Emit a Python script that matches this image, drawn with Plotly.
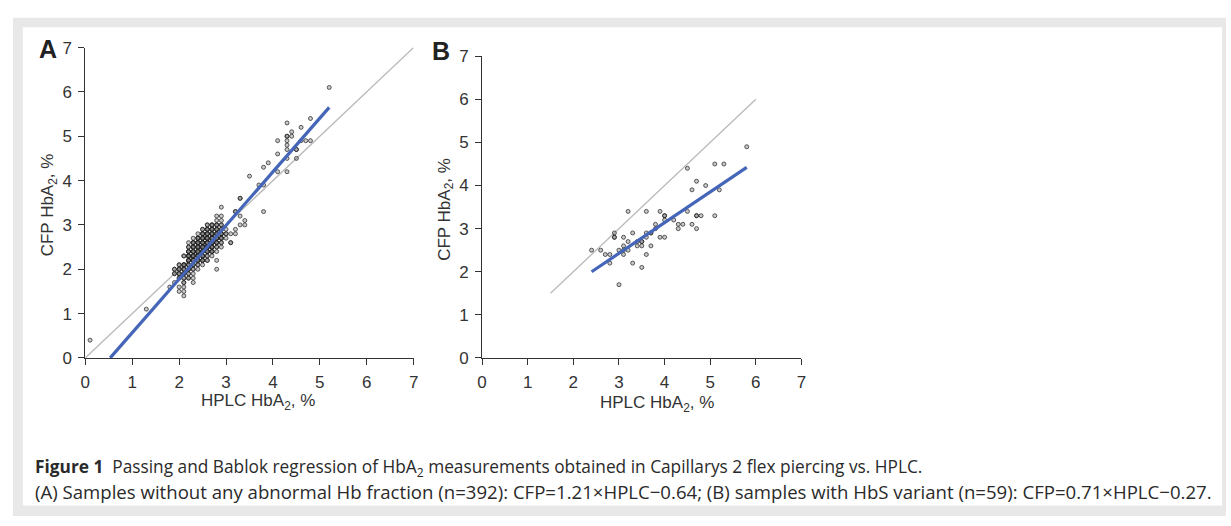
import numpy as np
import plotly.graph_objects as go

W, H = 1231, 526

# ---------------- Panel A data (n=392, no abnormal Hb fraction) ----------------
# dense cluster: for each CFP value, the HPLC values observed and how many samples
a_rows_y = [3.4, 3.3, 3.2, 3.1, 3.0, 2.9, 2.8, 2.7, 2.6, 2.5, 2.4, 2.3, 2.2, 2.1,
            2.0, 1.9, 1.8, 1.7, 1.6, 1.5, 1.4]
a_rows_x = [
    [2.9],
    [3.2],
    [2.8, 2.9, 3.3],
    [2.8, 2.9, 3.4],
    [2.6, 2.7, 2.8, 2.9, 3.3, 3.4],
    [2.5, 2.6, 2.7, 2.8, 2.9, 3.0, 3.2],
    [2.4, 2.5, 2.6, 2.7, 2.8, 2.9, 3.0, 3.1, 3.2],
    [2.3, 2.4, 2.5, 2.6, 2.7, 2.8, 2.9, 3.0],
    [2.2, 2.3, 2.4, 2.5, 2.6, 2.7, 2.8, 2.9, 3.1],
    [2.2, 2.3, 2.4, 2.5, 2.6, 2.7, 2.8, 2.9],
    [2.2, 2.3, 2.4, 2.5, 2.6, 2.7, 2.8],
    [2.1, 2.2, 2.3, 2.4, 2.5, 2.6, 2.7],
    [2.2, 2.3, 2.4, 2.5, 2.6, 2.8],
    [2.0, 2.1, 2.2, 2.3, 2.4, 2.5],
    [1.9, 2.0, 2.1, 2.2, 2.3, 2.4, 2.8],
    [1.9, 2.0, 2.1, 2.2, 2.3],
    [2.0, 2.1, 2.2, 2.3],
    [1.9, 2.1, 2.3],
    [1.8, 2.0, 2.1],
    [2.0, 2.1],
    [2.1],
]
a_rows_n = [
    [1],
    [1],
    [1, 1, 1],
    [1, 1, 1],
    [2, 3, 3, 2, 1, 1],
    [2, 4, 5, 4, 2, 1, 1],
    [1, 4, 5, 6, 5, 4, 2, 1, 1],
    [1, 4, 6, 7, 6, 5, 4, 1],
    [1, 4, 6, 7, 7, 6, 4, 2, 1],
    [2, 5, 7, 8, 7, 5, 2, 1],
    [4, 6, 7, 7, 6, 4, 1],
    [2, 5, 7, 6, 5, 2, 1],
    [5, 6, 6, 4, 2, 1],
    [2, 4, 4, 3, 2, 1],
    [2, 3, 4, 3, 2, 1, 1],
    [2, 3, 3, 2, 1],
    [2, 2, 2, 1],
    [1, 2, 1],
    [1, 1, 1],
    [1, 1],
    [1],
]
# isolated samples
a_out_x = [0.1, 1.3, 5.2, 4.3, 4.8, 4.6, 4.4, 4.3, 4.3, 4.4, 4.3, 4.1, 4.6, 4.7,
           4.8, 4.3, 4.3, 4.5, 4.5, 4.1, 4.3, 4.5, 4.1, 4.3, 3.8, 3.9, 3.5, 3.7,
           3.8, 3.3, 3.3, 3.8, 3.2, 3.1]
a_out_y = [0.4, 1.1, 6.1, 5.3, 5.4, 5.2, 5.1, 5.0, 5.0, 5.0, 4.9, 4.9, 4.9, 4.9,
           4.9, 4.8, 4.7, 4.7, 4.7, 4.6, 4.5, 4.5, 4.2, 4.2, 4.3, 4.4, 4.1, 3.9,
           3.9, 3.6, 3.6, 3.3, 3.3, 2.6]
a_fit_x = [0.53, 5.2]
a_fit_y = [0.0, 5.65]
a_id_x = [0, 7]
a_id_y = [0, 7]

# ---------------- Panel B data (n=59, HbS variant) ----------------
b_x = [5.8, 5.1, 5.3, 4.5, 4.7, 4.9, 4.6, 5.2, 4.5, 3.2, 3.6, 3.9, 4.0, 4.0, 4.0,
       4.7, 4.7, 4.8, 5.1, 4.2, 4.3, 4.4, 4.6, 4.3, 4.7, 3.8, 3.8, 3.7, 3.6, 3.6,
       3.9, 4.0, 2.9, 2.9, 3.3, 3.1, 3.2, 3.4, 3.5, 3.4, 3.5, 3.7, 3.1, 2.4, 2.6,
       3.0, 3.1, 3.2, 2.7, 2.8, 3.6, 2.8, 3.3, 3.5, 3.0, 3.1, 2.9, 3.7, 3.5]
b_y = [4.9, 4.5, 4.5, 4.4, 4.1, 4.0, 3.9, 3.9, 3.4, 3.4, 3.4, 3.4, 3.3, 3.3, 3.2,
       3.3, 3.3, 3.3, 3.3, 3.2, 3.1, 3.1, 3.1, 3.0, 3.0, 3.1, 3.0, 2.9, 2.9, 2.8,
       2.8, 2.8, 2.9, 2.8, 2.9, 2.8, 2.7, 2.7, 2.7, 2.6, 2.6, 2.6, 2.6, 2.5, 2.5,
       2.5, 2.5, 2.5, 2.4, 2.4, 2.4, 2.2, 2.2, 2.1, 1.7, 2.4, 2.8, 2.9, 2.7]
b_fit_x = [2.4, 5.8]
b_fit_y = [2.0, 4.42]
b_id_x = [1.5, 6.0]
b_id_y = [1.5, 6.0]

tick_vals = [0, 1, 2, 3, 4, 5, 6, 7]
x_title = "HPLC HbA<sub>2</sub>, %"
y_title = "CFP HbA<sub>2</sub>, %"
caption_1 = ("<b>Figure 1</b>  Passing and Bablok regression of HbA<sub>2</sub> "
             "measurements obtained in Capillarys 2 flex piercing vs. HPLC.")
caption_2 = ("(A) Samples without any abnormal Hb fraction (n=392): CFP=1.21×HPLC−0.64; "
             "(B) samples with HbS variant (n=59): CFP=0.71×HPLC−0.27.")

# expand cluster
a_x, a_y = [], []
for yv, xs, ns in zip(a_rows_y, a_rows_x, a_rows_n):
    for xv, n in zip(xs, ns):
        a_x += [xv] * n
        a_y += [yv] * n
a_x += a_out_x
a_y += a_out_y

BLUE = "#4565b8"
IDGRAY = "#b9b9b9"
marker = dict(symbol="circle", size=4, color="rgba(120,120,120,0.4)",
              line=dict(width=1, color="rgba(30,30,30,0.7)"))

fig = go.Figure()
fig.add_trace(go.Scatter(x=a_id_x, y=a_id_y, mode="lines", line=dict(color=IDGRAY, width=1.3),
                         xaxis="x", yaxis="y", hoverinfo="skip"))
fig.add_trace(go.Scatter(x=a_x, y=a_y, mode="markers", marker=marker, xaxis="x", yaxis="y",
                         cliponaxis=False))
fig.add_trace(go.Scatter(x=a_fit_x, y=a_fit_y, mode="lines", line=dict(color=BLUE, width=3.2),
                         xaxis="x", yaxis="y"))
fig.add_trace(go.Scatter(x=b_id_x, y=b_id_y, mode="lines", line=dict(color=IDGRAY, width=1.3),
                         xaxis="x2", yaxis="y2", hoverinfo="skip"))
fig.add_trace(go.Scatter(x=b_x, y=b_y, mode="markers", marker=marker, xaxis="x2", yaxis="y2"))
fig.add_trace(go.Scatter(x=b_fit_x, y=b_fit_y, mode="lines", line=dict(color=BLUE, width=3.2),
                         xaxis="x2", yaxis="y2"))

def fx(px):
    return px / W

def fy(py):
    return 1 - py / H

axis_common = dict(range=[0, 7], tickvals=tick_vals, ticks="outside", ticklen=6, tickwidth=1,
                   tickcolor="#333", showline=True, linecolor="#333", linewidth=1,
                   showgrid=False, zeroline=False, fixedrange=True, ticklabelstandoff=3,
                   tickfont=dict(family="Liberation Sans, Arial, sans-serif", size=17, color="#333"))

fig.update_layout(
    width=W, height=H, margin=dict(l=0, r=0, t=0, b=0),
    paper_bgcolor="white", plot_bgcolor="rgba(0,0,0,0)", showlegend=False,
    xaxis=dict(domain=[fx(81), fx(412)], anchor="y", **axis_common),
    yaxis=dict(domain=[fy(362), fy(40)], anchor="x", **axis_common),
    xaxis2=dict(domain=[fx(481), fx(803)], anchor="y2", **axis_common),
    yaxis2=dict(domain=[fy(362), fy(49)], anchor="x2", **axis_common),
    shapes=[
        dict(type="rect", xref="paper", yref="paper", x0=fx(8), x1=1, y0=0, y1=fy(9),
             fillcolor="#e8e8e8", line=dict(width=0), layer="below"),
        dict(type="rect", xref="paper", yref="paper", x0=fx(18), x1=fx(1227), y0=fy(515), y1=fy(19),
             fillcolor="white", line=dict(width=0), layer="below"),
    ],
)

tfont = dict(family="Liberation Sans, Arial, sans-serif", size=17, color="#333")
ann = [
    dict(text=x_title, x=fx(255), y=fy(408), font=tfont),
    dict(text=y_title, x=fx(44.5), y=fy(203.5), font=tfont, textangle=-90),
    dict(text=x_title, x=fx(657), y=fy(410), font=tfont),
    dict(text=y_title, x=fx(445), y=fy(208), font=tfont, textangle=-90),
    dict(text="<b>A</b>", x=fx(43), y=fy(42), font=dict(family="Liberation Sans, Arial", size=25, color="#222")),
    dict(text="<b>B</b>", x=fx(440), y=fy(44), font=dict(family="Liberation Sans, Arial", size=25, color="#222")),
    dict(text=caption_1, x=fx(28), y=fy(476), xanchor="left",
         font=dict(family="Open Sans, sans-serif", size=17.3, color="#2a2a2a")),
    dict(text=caption_2, x=fx(28), y=fy(501), xanchor="left",
         font=dict(family="Open Sans, sans-serif", size=18.6, color="#2a2a2a")),
]
for a in ann:
    a.setdefault("xanchor", "center")
    a.update(xref="paper", yref="paper", yanchor="middle", showarrow=False)
fig.update_layout(annotations=ann)

fig.write_html("out.html")
